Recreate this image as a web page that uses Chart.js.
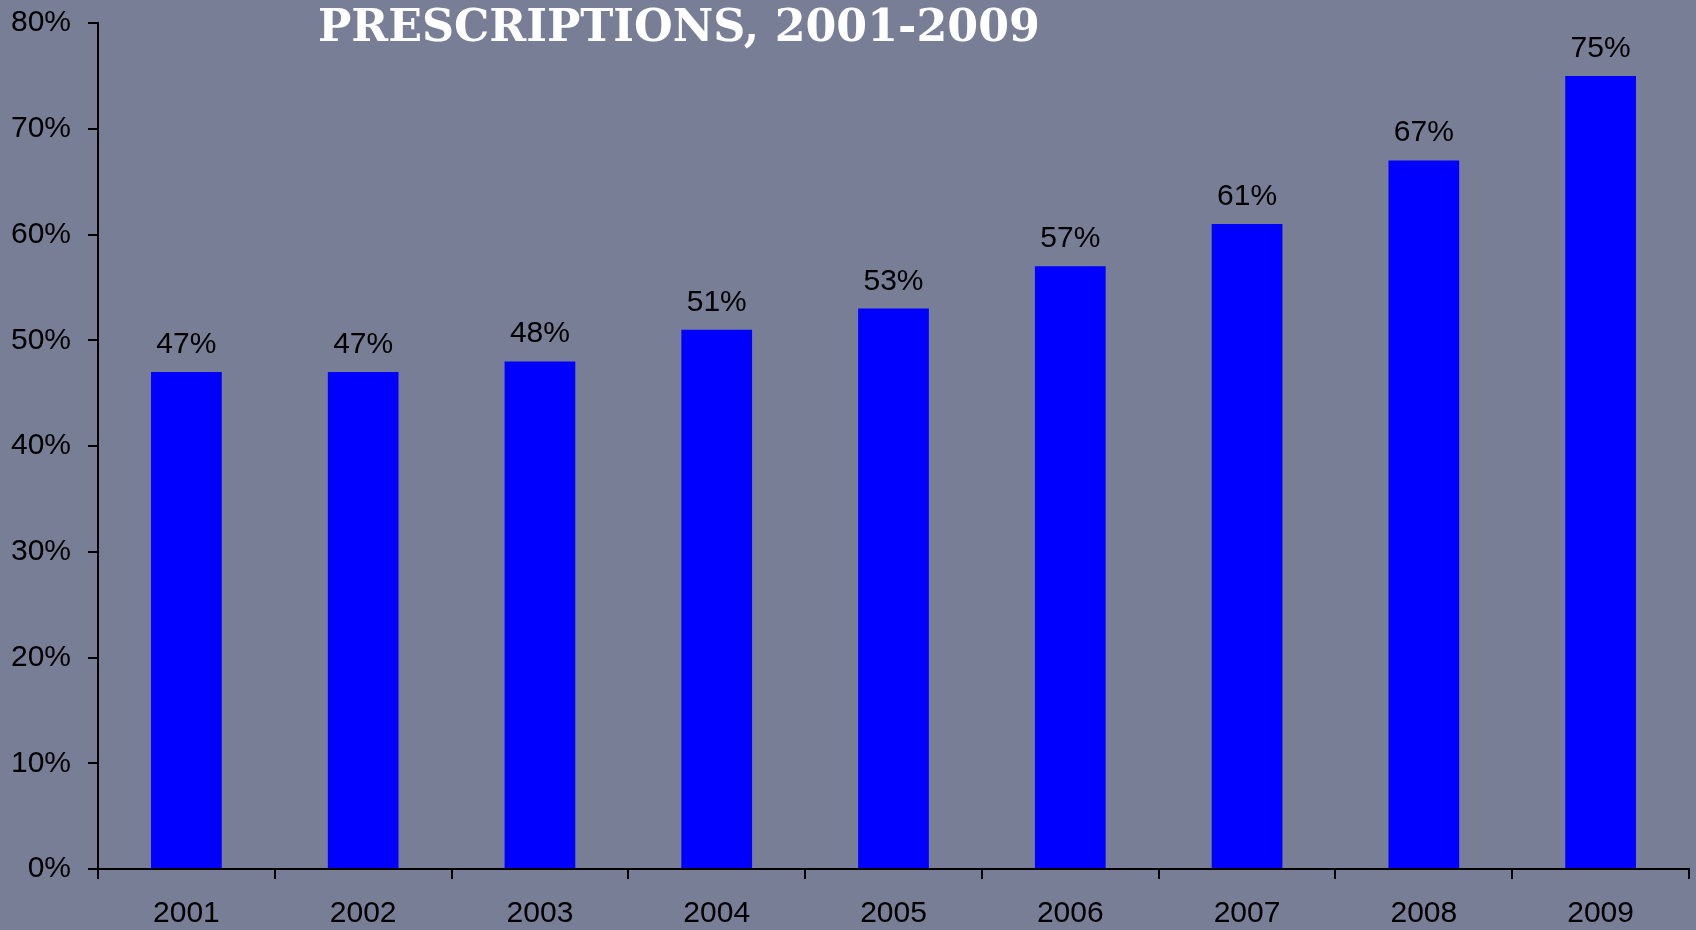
<!DOCTYPE html>
<html>
<head>
<meta charset="utf-8">
<script src="https://cdn.jsdelivr.net/npm/chart.js@4/dist/chart.umd.min.js"></script>
<style>
  html, body { margin: 0; padding: 0; background: #787E96; }
  #wrap { width: 1696px; height: 930px; position: relative; }
</style>
</head>
<body>
<div id="wrap"><canvas id="c" width="1696" height="930"></canvas></div>
<script>
const categories = ['2001', '2002', '2003', '2004', '2005', '2006', '2007', '2008', '2009'];
const values = [47, 47, 48, 51, 53, 57, 61, 67, 75];
const titleText = 'PRESCRIPTIONS, 2001-2009';
const yMin = 0, yMax = 80, yStep = 10;

const SANS = '"Liberation Sans", Arial, sans-serif';

const titlePlugin = {
  id: 'slideTitle',
  afterDraw(chart) {
    const ctx = chart.ctx;
    ctx.save();
    let size = 44;
    ctx.font = 'bold ' + size + 'px "DejaVu Serif", Georgia, serif';
    const w = ctx.measureText(titleText).width;
    size = size * 722 / w;
    ctx.font = 'bold ' + size.toFixed(2) + 'px "DejaVu Serif", Georgia, serif';
    ctx.fillStyle = '#ffffff';
    ctx.textAlign = 'left';
    ctx.textBaseline = 'alphabetic';
    ctx.fillText(titleText, 318, 41);
    ctx.restore();
  }
};

const valueLabels = {
  id: 'valueLabels',
  afterDatasetsDraw(chart) {
    const ctx = chart.ctx;
    const meta = chart.getDatasetMeta(0);
    ctx.save();
    ctx.font = '30px ' + SANS;
    ctx.fillStyle = '#000000';
    ctx.textAlign = 'center';
    ctx.textBaseline = 'alphabetic';
    meta.data.forEach((bar, i) => {
      ctx.fillText(values[i] + '%', bar.x, bar.y - 19);
    });
    ctx.restore();
  }
};

new Chart(document.getElementById('c'), {
  type: 'bar',
  data: {
    labels: categories,
    datasets: [{
      data: values,
      backgroundColor: '#0000FF',
      borderWidth: 0,
      categoryPercentage: 1.0,
      barPercentage: 0.4
    }]
  },
  options: {
    responsive: false,
    animation: false,
    devicePixelRatio: 1,
    layout: { padding: { top: 23, right: 7, bottom: 0, left: 0 } },
    plugins: {
      legend: { display: false },
      tooltip: { enabled: false },
      title: { display: false }
    },
    scales: {
      x: {
        offset: true,
        grid: { display: true, offset: true, drawOnChartArea: false, drawTicks: true, tickLength: 10, color: '#000000', lineWidth: 2 },
        border: { display: true, color: '#000000', width: 2 },
        ticks: { color: '#000000', font: { family: SANS, size: 30 }, padding: 17, maxRotation: 0, autoSkip: false },
        afterFit(scale) { scale.height = 61; scale.paddingLeft = 0; scale.paddingRight = 0; }
      },
      y: {
        min: yMin, max: yMax,
        grid: { display: true, drawOnChartArea: false, drawTicks: true, tickLength: 10, color: '#000000', lineWidth: 2 },
        border: { display: true, color: '#000000', width: 2 },
        ticks: { stepSize: yStep, color: '#000000', font: { family: SANS, size: 30 }, padding: 17,
                 callback: (v) => v + '%' },
        afterFit(scale) { scale.width = 98; scale.paddingTop = 0; scale.paddingBottom = 0; }
      }
    }
  },
  plugins: [titlePlugin, valueLabels]
});
</script>
</body>
</html>
